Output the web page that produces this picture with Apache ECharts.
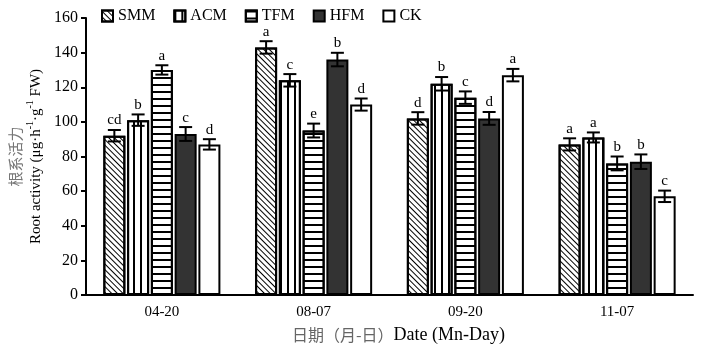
<!DOCTYPE html>
<html>
<head>
<meta charset="utf-8">
<script src="https://cdn.jsdelivr.net/npm/echarts@6/dist/echarts.min.js"></script>
<style>html,body{margin:0;padding:0;background:#fff}</style>
</head>
<body>
<div id="chart" style="width:712px;height:350px;"></div>
<script>
// dates on the x axis
const dates = ['04-20', '08-07', '09-20', '11-07'];
const seriesNames = ['SMM', 'ACM', 'TFM', 'HFM', 'CK'];

// root activity means, one array per treatment
const smm = [92, 143, 102, 87];
const acm = [101, 124, 122, 91];
const tfm = [130, 95, 114, 76];
const hfm = [93, 136, 102, 77];
const ck = [87, 110, 127, 57];

// error (+/-)
const smmErr = [3.3, 3.6, 3.6, 3.5];
const acmErr = [3.3, 3.6, 3.9, 2.9];
const tfmErr = [2.7, 4.0, 3.6, 4.0];
const hfmErr = [4.0, 3.9, 3.7, 4.2];
const ckErr = [3.0, 3.5, 3.6, 3.3];

// significance letters
const smmSig = ['cd', 'a', 'd', 'a'];
const acmSig = ['b', 'c', 'b', 'a'];
const tfmSig = ['a', 'e', 'c', 'b'];
const hfmSig = ['c', 'b', 'd', 'b'];
const ckSig = ['d', 'd', 'a', 'c'];

const values = [smm, acm, tfm, hfm, ck];
const errs = [smmErr, acmErr, tfmErr, hfmErr, ckErr];
const sigs = [smmSig, acmSig, tfmSig, hfmSig, ckSig];

const FONT = '"Liberation Serif", "Times New Roman", serif';
const CJK = '"Noto Sans CJK SC", sans-serif';
const BAR_W = 22;
const GAP = 0.08;
const PITCH = BAR_W * (1 + GAP);

const decals = [
  { symbol: 'rect', symbolSize: 1, color: '#000', dashArrayX: [1, 0], dashArrayY: [1, 2.6], rotation: Math.PI / 4 },
  { symbol: 'rect', symbolSize: 1, color: '#000', dashArrayX: [2, 5], dashArrayY: [1, 0], rotation: 0 },
  { symbol: 'rect', symbolSize: 1, color: '#000', dashArrayX: [1, 0], dashArrayY: [2, 5], rotation: 0 },
  null,
  null,
];
const fills = ['#fff', '#fff', '#fff', '#333', '#fff'];

const barSeries = seriesNames.map((name, i) => ({
  name,
  type: 'bar',
  data: values[i],
  barWidth: BAR_W,
  barGap: (GAP * 100) + '%',
  itemStyle: Object.assign(
    { color: fills[i], borderColor: '#000', borderWidth: 2 },
    decals[i] ? { decal: decals[i] } : {}
  ),
  emphasis: { disabled: true },
  z: 2,
}));

const errSeries = seriesNames.map((name, i) => ({
  type: 'custom',
  z: 5,
  silent: true,
  data: values[i].map((v, k) => [k, v, errs[i][k]]),
  renderItem: (params, api) => {
    const cat = api.value(0);
    const v = api.value(1);
    const e = api.value(2);
    const x = api.coord([cat, v])[0] + (i - 2) * PITCH;
    const yt = api.coord([cat, v + e])[1];
    const yb = api.coord([cat, v - e])[1];
    const cap = 6.5;
    const ls = { stroke: '#000', lineWidth: 2 };
    return {
      type: 'group',
      children: [
        { type: 'line', shape: { x1: x, y1: yt, x2: x, y2: yb }, style: ls },
        { type: 'line', shape: { x1: x - cap, y1: yt, x2: x + cap, y2: yt }, style: ls },
        { type: 'line', shape: { x1: x - cap, y1: yb, x2: x + cap, y2: yb }, style: ls },
        {
          type: 'text',
          style: {
            text: sigs[i][params.dataIndex],
            x: x, y: yt - 2,
            align: 'center', verticalAlign: 'bottom',
            font: '15px ' + FONT, fill: '#000',
          },
        },
      ],
    };
  },
}));

const chart = echarts.init(document.getElementById('chart'), null, { renderer: 'canvas' });
chart.setOption({
  animation: false,
  backgroundColor: '#fff',
  textStyle: { fontFamily: FONT },
  legend: {
    data: seriesNames,
    left: 96,
    top: 3,
    itemWidth: 11,
    itemHeight: 11,
    itemGap: 18,
    icon: 'rect',
    textStyle: { fontFamily: FONT, fontSize: 16, color: '#000' },
    selectedMode: false,
  },
  grid: { left: 86, right: 19, top: 18, bottom: 55, containLabel: false },
  xAxis: {
    type: 'category',
    data: dates,
    axisLine: { lineStyle: { color: '#000', width: 2 } },
    axisTick: { inside: true, length: 5, lineStyle: { color: '#000', width: 2 } },
    axisLabel: { fontFamily: FONT, fontSize: 15, color: '#000', margin: 10 },
    name: '{cn|日期（月-日）}{en|Date (Mn-Day)}',
    nameLocation: 'middle',
    nameGap: 31,
    nameTextStyle: {
      padding: [0, 0, 0, 18],
      rich: {
        cn: { fontFamily: CJK, fontSize: 16, color: '#666' },
        en: { fontFamily: FONT, fontSize: 18, color: '#000' },
      },
    },
  },
  yAxis: {
    type: 'value',
    min: 0,
    max: 160,
    interval: 20,
    axisLine: { show: true, lineStyle: { color: '#000', width: 2 } },
    axisTick: { show: true, length: 5, lineStyle: { color: '#000', width: 2 } },
    splitLine: { show: false },
    axisLabel: { fontFamily: FONT, fontSize: 16, color: '#000', margin: 8 },
    name: '{cn|根系活力}\n{en|Root activity (μg·h}{sup|-1}{en|·g}{sup|-1}{en| FW)}',
    nameLocation: 'middle',
    nameGap: 39,
    nameTextStyle: {
      rich: {
        cn: { fontFamily: CJK, fontSize: 15, color: '#777', lineHeight: 20 },
        en: { fontFamily: FONT, fontSize: 15, color: '#000', lineHeight: 20 },
        sup: { fontFamily: FONT, fontSize: 10, color: '#000', lineHeight: 20, verticalAlign: 'top' },
      },
    },
  },
  series: barSeries.concat(errSeries),
});
</script>
</body>
</html>
